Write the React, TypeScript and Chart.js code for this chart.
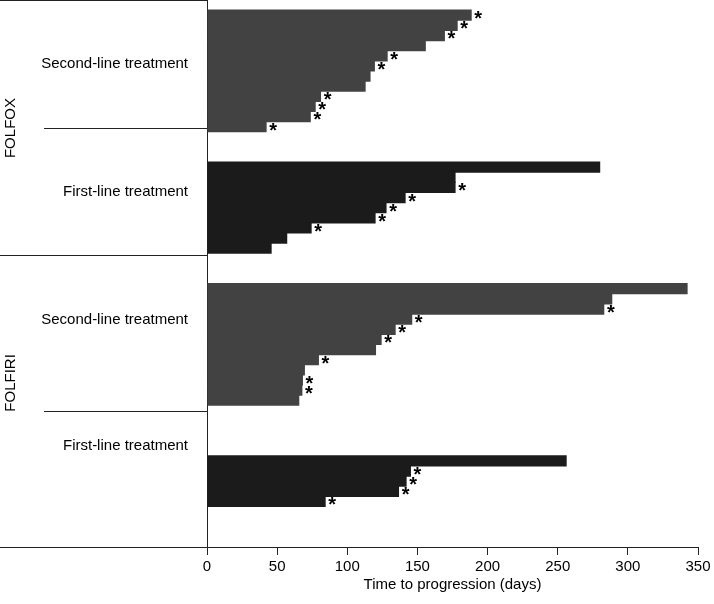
import React, { useEffect, useRef } from 'react';
import { Chart, registerables } from 'chart.js';

Chart.register(...registerables);

const FONT = "'Liberation Sans', Arial, Helvetica, sans-serif";

// x axis
const xMin = 0;
const xMax = 350;
const xStep = 50;
const xTitle = 'Time to progression (days)';

// group / line labels
const groupNames = ['FOLFOX', 'FOLFIRI'];
const armNames = ['Second-line treatment', 'First-line treatment', 'Second-line treatment', 'First-line treatment'];

// time to progression (days), one bar per patient, top to bottom
const folfoxSecond = [188.7, 178.7, 169.6, 156.0, 128.8, 119.7, 116.6, 113.1, 81.3, 77.5, 74.0, 42.5];
const folfoxFirst = [280.3, 177.2, 177.2, 141.6, 128.0, 120.2, 74.6, 57.2, 46.1];
const folfiriSecond = [342.6, 288.9, 283.2, 146.3, 134.5, 124.5, 120.5, 79.8, 69.8, 68.4, 68.0, 65.8];
const folfiriFirst = [256.4, 145.4, 142.3, 136.9, 84.6];

// asterisk flags (1 = marked with *)
const folfoxSecondStar = [1, 1, 1, 0, 1, 1, 0, 0, 1, 1, 1, 1];
const folfoxFirstStar = [0, 0, 1, 1, 1, 1, 1, 0, 0];
const folfiriSecondStar = [0, 0, 1, 1, 1, 1, 0, 1, 0, 1, 1, 0];
const folfiriFirstStar = [0, 1, 1, 1, 1];

// colours per arm
const armColors = ['#424242', '#1b1b1b', '#424242', '#1b1b1b'];

// empty rows before each arm, and after the last one
const blankRowsBefore = [1, 3, 3, 5];
const blankRowsAfter = 4;

// left panel layout in row units from the top of the plot
const groupDividerRows = [0, 25.17, 54];
const armDividerRows = [12.64, 40.57];
const armLabelRows = [6.32, 18.95, 31.6, 44.0];
const groupLabelRows = [12.64, 37.8];

const arms = [
  { values: folfoxSecond, stars: folfoxSecondStar },
  { values: folfoxFirst, stars: folfoxFirstStar },
  { values: folfiriSecond, stars: folfiriSecondStar },
  { values: folfiriFirst, stars: folfiriFirstStar },
];

function buildRows() {
  const labels: string[] = [];
  const owner: number[] = [];
  const index: number[] = [];
  arms.forEach((arm, a) => {
    for (let i = 0; i < blankRowsBefore[a]; i++) {
      labels.push('');
      owner.push(-1);
      index.push(-1);
    }
    arm.values.forEach((_, i) => {
      labels.push(`${armNames[a]} ${a} #${i + 1}`);
      owner.push(a);
      index.push(i);
    });
  });
  for (let i = 0; i < blankRowsAfter; i++) {
    labels.push('');
    owner.push(-1);
    index.push(-1);
  }
  const datasets = arms.map((arm, a) => ({
    label: armNames[a],
    data: owner.map((o, r) => (o === a ? arm.values[index[r]] : null)),
    stars: owner.map((o, r) => (o === a ? arm.stars[index[r]] : 0)),
    backgroundColor: armColors[a],
    borderWidth: 0,
    barPercentage: 1.12,
    categoryPercentage: 1,
    grouped: false,
  }));
  return { labels, datasets };
}

const overlay = {
  id: 'overlay',
  afterDatasetsDraw(chart: any) {
    const ctx = chart.ctx;
    ctx.save();
    ctx.font = `bold 20px ${FONT}`;
    ctx.fillStyle = '#000';
    ctx.textAlign = 'center';
    ctx.textBaseline = 'alphabetic';
    const m = ctx.measureText('*');
    const shift = (m.actualBoundingBoxAscent - m.actualBoundingBoxDescent) / 2;
    chart.data.datasets.forEach((ds: any, i: number) => {
      const meta = chart.getDatasetMeta(i);
      meta.data.forEach((el: any, j: number) => {
        if (ds.stars[j] && ds.data[j] != null) {
          ctx.fillText('*', el.x + 6.5, el.y + shift);
        }
      });
    });
    ctx.restore();
  },
  afterDraw(chart: any) {
    const ctx = chart.ctx;
    const y = chart.scales.y;
    const left = chart.chartArea.left;
    const rowPx = (f: number) => y.getPixelForValue(f - 0.5);
    ctx.save();
    ctx.strokeStyle = '#222';
    ctx.lineWidth = 1;
    groupDividerRows.forEach((f) => {
      const py = Math.min(Math.round(rowPx(f)), chart.height - 1) + 0.5;
      ctx.beginPath();
      ctx.moveTo(0, py);
      ctx.lineTo(left, py);
      ctx.stroke();
    });
    armDividerRows.forEach((f) => {
      const py = Math.round(rowPx(f)) + 0.5;
      ctx.beginPath();
      ctx.moveTo(left - 163, py);
      ctx.lineTo(left, py);
      ctx.stroke();
    });
    ctx.fillStyle = '#000';
    ctx.font = `15px ${FONT}`;
    ctx.textAlign = 'right';
    ctx.textBaseline = 'middle';
    armLabelRows.forEach((f, i) => {
      ctx.fillText(armNames[i], left - 19, rowPx(f));
    });
    ctx.textAlign = 'center';
    groupLabelRows.forEach((f, i) => {
      ctx.save();
      ctx.translate(11, rowPx(f));
      ctx.rotate(-Math.PI / 2);
      ctx.fillText(groupNames[i], 0, 0);
      ctx.restore();
    });
    ctx.restore();
  },
};

export default function App() {
  const ref = useRef<HTMLCanvasElement | null>(null);
  useEffect(() => {
    if (!ref.current) return;
    Chart.defaults.font.family = FONT;
    const { labels, datasets } = buildRows();
    const chart = new Chart(ref.current, {
      type: 'bar',
      data: { labels, datasets: datasets as any },
      plugins: [overlay],
      options: {
        indexAxis: 'y',
        animation: false,
        responsive: false,
        layout: { padding: { left: 0, right: 16, top: 0, bottom: 0 } },
        plugins: { legend: { display: false }, tooltip: { enabled: false } },
        scales: {
          y: {
            type: 'category',
            ticks: { display: false },
            grid: { display: false, drawTicks: false },
            border: { display: true, color: '#222', width: 1 },
            afterFit: (s: any) => {
              s.width = 207;
            },
          },
          x: {
            type: 'linear',
            min: xMin,
            max: xMax,
            ticks: { stepSize: xStep, color: '#000', font: { size: 15, family: FONT }, padding: 3, maxRotation: 0 },
            grid: { drawOnChartArea: false, drawTicks: true, tickLength: 8, color: '#222' },
            border: { display: true, color: '#222', width: 1 },
            title: {
              display: true,
              text: xTitle,
              color: '#000',
              font: { size: 15, family: FONT },
              padding: { top: 0, bottom: 10 },
            },
            afterFit: (s: any) => {
              s.height = 57;
            },
          },
        },
      },
    });
    return () => chart.destroy();
  }, []);
  return (
    <div style={{ position: 'absolute', left: 0, top: 0, width: 714, height: 604, background: '#fff' }}>
      <canvas ref={ref} width={714} height={604} style={{ display: 'block' }} />
    </div>
  );
}
